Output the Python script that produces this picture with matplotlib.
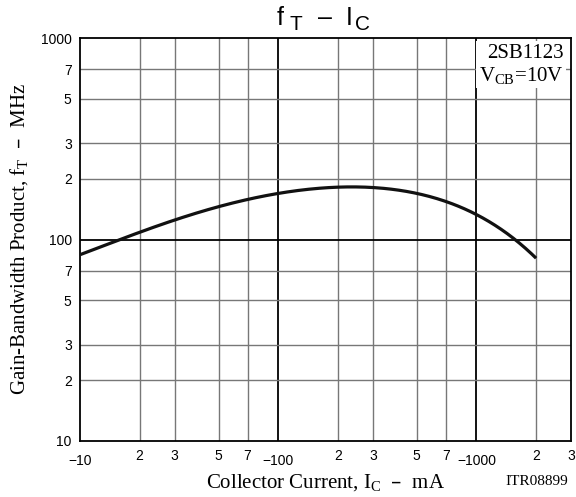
import numpy as np
import matplotlib.pyplot as plt
from matplotlib.transforms import ScaledTranslation

plt.rcParams['mathtext.default'] = 'regular'

# datos (|Ic| en mA, fT en MHz)
ic = [10, 15.9, 20, 30, 50, 70, 100, 160, 220, 300, 500, 700, 1000, 1500, 2000]
ft = [84, 100, 108.5, 125.5, 144.5, 158, 169, 180, 184.5, 180, 168, 153, 136, 102, 81]

xticks = [10, 20, 30, 50, 70, 100, 200, 300, 500, 700, 1000, 2000, 3000]
xlabels = ['\u221210', '2', '3', '5', '7', '\u2212100', '2', '3', '5', '7', '\u22121000', '2', '3']
yticks = [10, 20, 30, 50, 70, 100, 200, 300, 500, 700, 1000]
ylabels = ['10', '2', '3', '5', '7', '100', '2', '3', '5', '7', '1000']

serif = 'Liberation Serif'
sans = 'Liberation Sans'
W, H = 576, 497

fig = plt.figure(figsize=(5.76, 4.97), dpi=100)
ax = fig.add_axes([80 / W, 1 - 441 / H, 491 / W, 403 / H])
ax.set_xscale('log')
ax.set_yscale('log')
ax.set_xlim(10, 3000)
ax.set_ylim(10, 1000)

# rejilla
for x in xticks[1:-1]:
    major = x in (100, 1000)
    ax.axvline(x, color='black' if major else '#777777', lw=1.3 if major else 1.0, zorder=1)
for y in yticks[1:-1]:
    major = y == 100
    ax.axhline(y, color='black' if major else '#777777', lw=1.3 if major else 1.0, zorder=1)

# curva suavizada en log-log
lx = np.log10(ic)
ly = np.log10(ft)
xs = np.linspace(lx[0], lx[-1], 300)
coef = np.polyfit(lx, ly, 5)
ax.plot(10 ** xs, 10 ** np.polyval(coef, xs), color='#111111', lw=2.3, zorder=3,
        solid_capstyle='butt')

ax.set_xticks(xticks)
ax.set_xticklabels(xlabels, family=sans, fontsize=10)
ax.set_yticks(yticks)
ax.set_yticklabels(ylabels, family=sans, fontsize=10)
ax.minorticks_off()
ax.tick_params(length=0, pad=6)
# las decenas van un poco mas abajo
for lab in ax.get_xticklabels():
    if lab.get_text().startswith('\u2212'):
        lab.set_transform(lab.get_transform() + ScaledTranslation(0, -3.5 / 72, fig.dpi_scale_trans))
for s in ax.spines.values():
    s.set_linewidth(1.3)

ax.set_xlabel('Collector Current, I$_C$  \u2013  mA', family=serif, fontsize=15, labelpad=3)
ax.set_ylabel('Gain-Bandwidth Product, f$_T$  \u2013  MHz', family=serif, fontsize=15, labelpad=8)

# titulo armado a mano: f_T - I_C
def ftxt(x, y, s, size):
    fig.text(x / W, 1 - y / H, s, family=sans, fontsize=size, va='baseline', ha='left')

ftxt(277, 25, 'f', 18)
ftxt(290, 30, 'T', 15)
ftxt(318, 25, '\u2013', 18)
ftxt(346, 25, 'I', 18)
ftxt(355, 30, 'C', 15)

ax.text(0.985, 0.985, '2SB1123\nV$_{CB}$=10V', transform=ax.transAxes, ha='right', va='top',
        family=serif, fontsize=15, linespacing=1.1, zorder=5,
        bbox=dict(facecolor='white', edgecolor='none', pad=2))
fig.text(537 / W, 1 - 485 / H, 'ITR08899', ha='center', va='baseline', family=serif, fontsize=11)

plt.savefig('out.png')
